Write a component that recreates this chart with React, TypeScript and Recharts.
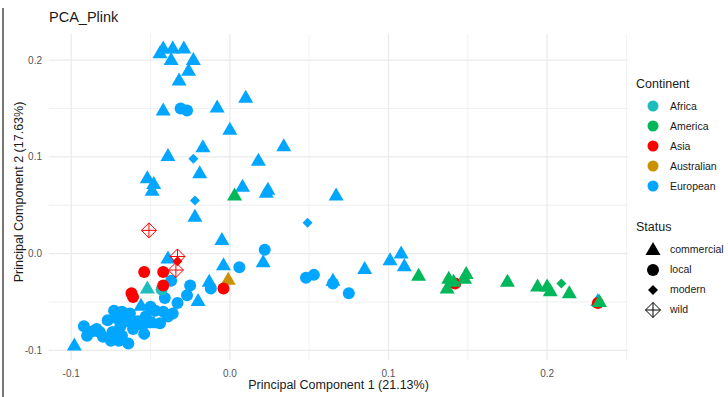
import { ScatterChart, Scatter, XAxis, YAxis, CartesianGrid, Label } from 'recharts';

const FONT = '"Liberation Sans", Arial, Helvetica, sans-serif';

const continentColors: Record<string, string> = {
  Africa: '#1DBDBD',
  America: '#00B85A',
  Asia: '#FF0000',
  Australian: '#C99200',
  European: '#00A6FF',
};

const continents = ['Africa', 'America', 'Asia', 'Australian', 'European'];
const statuses = ['commercial', 'local', 'modern', 'wild'];

const xTicks = [-0.1, 0, 0.1, 0.2];
const yTicks = [-0.1, 0, 0.1, 0.2];
const xMinor = [-0.05, 0.05, 0.15, 0.25];
const yMinor = [-0.05, 0.05, 0.15];

type P = [number, number];

const euroCommercial: P[] = [
  [-0.044, 0.207], [-0.042, 0.212], [-0.036, 0.212], [-0.029, 0.212], [-0.037, 0.2], [-0.023, 0.2],
  [-0.026, 0.189], [-0.032, 0.179], [-0.042, 0.148], [-0.008, 0.151], [0.0, 0.128], [0.01, 0.161],
  [-0.039, 0.101], [-0.017, 0.11], [0.034, 0.111], [0.018, 0.096], [-0.019, 0.083], [-0.052, 0.078],
  [-0.048, 0.072], [-0.049, 0.065], [0.008, 0.069], [0.024, 0.066], [0.023, 0.063], [0.067, 0.06],
  [-0.022, 0.038], [-0.005, 0.014], [-0.039, -0.005], [-0.004, -0.012], [0.021, -0.009],
  [-0.013, -0.029], [-0.02, -0.049], [-0.056, -0.054], [-0.048, -0.072], [-0.098, -0.095],
  [0.065, -0.028], [0.085, -0.016], [0.101, -0.007], [0.108, 0.0], [0.11, -0.013], [0.232, -0.049],
];

const euroLocal: P[] = [
  [-0.031, 0.15], [-0.027, 0.148], [0.022, 0.004], [0.006, -0.014], [-0.012, -0.036], [0.048, -0.025],
  [0.053, -0.022], [0.065, -0.031], [0.075, -0.041], [-0.037, -0.028], [-0.025, -0.033],
  [-0.041, -0.046], [-0.033, -0.051], [-0.027, -0.043],
  [-0.073, -0.059], [-0.068, -0.06], [-0.063, -0.062], [-0.05, -0.055], [-0.047, -0.059],
  [-0.042, -0.06], [-0.036, -0.062], [-0.077, -0.069], [-0.071, -0.067], [-0.065, -0.07],
  [-0.058, -0.07], [-0.051, -0.07], [-0.055, -0.074], [-0.092, -0.075], [-0.086, -0.08],
  [-0.082, -0.081], [-0.074, -0.081], [-0.068, -0.085], [-0.08, -0.086], [-0.075, -0.09],
  [-0.054, -0.083], [-0.09, -0.085], [-0.069, -0.075], [-0.061, -0.078], [-0.064, -0.093],
  [-0.07, -0.09], [-0.084, -0.078], [-0.044, -0.072], [-0.039, -0.065], [-0.053, -0.065],
];

const euroModern: P[] = [[-0.023, 0.098], [-0.022, 0.055], [0.049, 0.032]];

const australianCommercial: P[] = [[-0.001, -0.027]];
const africaCommercial: P[] = [[-0.052, -0.036]];
const africaLocal: P[] = [[-0.043, -0.037]];

const asiaLocal: P[] = [
  [-0.054, -0.019], [-0.042, -0.019], [-0.062, -0.041], [-0.061, -0.045], [-0.042, -0.033],
  [-0.004, -0.036], [0.142, -0.031], [0.232, -0.051],
];
const asiaModern: P[] = [[-0.033, -0.008]];
const asiaWild: P[] = [[-0.051, 0.024], [-0.033, -0.003], [-0.034, -0.017]];

const americaCommercial: P[] = [
  [0.003, 0.06], [0.119, -0.023], [0.138, -0.026], [0.137, -0.036], [0.141, -0.029], [0.148, -0.026],
  [0.149, -0.021], [0.175, -0.029], [0.194, -0.034], [0.2, -0.034], [0.202, -0.039], [0.214, -0.041],
  [0.233, -0.05],
];
const americaModern: P[] = [[0.209, -0.031]];

const groups: { continent: string; status: string; points: P[] }[] = [
  { continent: 'European', status: 'local', points: euroLocal },
  { continent: 'European', status: 'commercial', points: euroCommercial },
  { continent: 'European', status: 'modern', points: euroModern },
  { continent: 'Australian', status: 'commercial', points: australianCommercial },
  { continent: 'Africa', status: 'commercial', points: africaCommercial },
  { continent: 'Africa', status: 'local', points: africaLocal },
  { continent: 'Asia', status: 'local', points: asiaLocal },
  { continent: 'Asia', status: 'modern', points: asiaModern },
  { continent: 'America', status: 'commercial', points: americaCommercial },
  { continent: 'America', status: 'modern', points: americaModern },
  { continent: 'Asia', status: 'wild', points: asiaWild },
];

const drawSymbol = (status: string, cx: number, cy: number, color: string) => {
  if (status === 'commercial') {
    return <polygon points={`${cx},${cy - 8} ${cx + 7.5},${cy + 5} ${cx - 7.5},${cy + 5}`} fill={color} />;
  }
  if (status === 'local') {
    return <circle cx={cx} cy={cy} r={6} fill={color} />;
  }
  if (status === 'modern') {
    return <polygon points={`${cx},${cy - 5} ${cx + 5},${cy} ${cx},${cy + 5} ${cx - 5},${cy}`} fill={color} />;
  }
  return (
    <g stroke={color} strokeWidth={1} fill="none">
      <polygon points={`${cx},${cy - 7.5} ${cx + 7.5},${cy} ${cx},${cy + 7.5} ${cx - 7.5},${cy}`} />
      <line x1={cx - 7.5} y1={cy} x2={cx + 7.5} y2={cy} />
      <line x1={cx} y1={cy - 7.5} x2={cx} y2={cy + 7.5} />
    </g>
  );
};

const fmt = (v: number) => v.toFixed(1);

const CustomLegend = () => (
  <div style={{ position: 'absolute', left: 636, top: 77, fontFamily: FONT, color: '#1a1a1a' }}>
    <div style={{ fontSize: 12.5, height: 19 }}>Continent</div>
    {continents.map((c) => (
      <div key={c} style={{ display: 'flex', alignItems: 'center', height: 20, fontSize: 10.5 }}>
        <svg width={34} height={20}>
          <circle cx={17} cy={10} r={5.5} fill={continentColors[c]} />
        </svg>
        <span>{c}</span>
      </div>
    ))}
    <div style={{ fontSize: 12.5, height: 19, marginTop: 24 }}>Status</div>
    {statuses.map((s) => (
      <div key={s} style={{ display: 'flex', alignItems: 'center', height: 20, fontSize: 10.5 }}>
        <svg width={34} height={20}>
          {drawSymbol(s, 17, 11, '#000')}
        </svg>
        <span>{s}</span>
      </div>
    ))}
  </div>
);

const YTitle = (props: any) => {
  const vb = props.viewBox || {};
  const cy = vb.y + vb.height / 2 - 5;
  return (
    <text
      x={19}
      y={cy}
      transform={`rotate(-90, 19, ${cy})`}
      textAnchor="middle"
      dominantBaseline="central"
      fontSize={12.5}
      fill="#1a1a1a"
      fontFamily={FONT}
    >
      Principal Component 2 (17.63%)
    </text>
  );
};

export default function App() {
  return (
    <div style={{ position: 'absolute', left: 0, top: 0, width: 728, height: 397, background: '#fff', fontFamily: FONT }}>
      <div style={{ position: 'absolute', left: 2, top: 8, width: 1.5, height: 389, background: '#777' }} />
      <div style={{ position: 'absolute', left: 49, top: 9, fontSize: 14.5, color: '#1a1a1a' }}>PCA_Plink</div>
      <ScatterChart width={728} height={397} margin={{ top: 34, right: 100, bottom: 0, left: 0 }}>
        <CartesianGrid stroke="#ececec" strokeWidth={0.8} horizontalValues={yMinor} verticalValues={xMinor} />
        <CartesianGrid stroke="#ebebeb" strokeWidth={1.3} horizontalValues={yTicks} verticalValues={xTicks} />
        <XAxis
          type="number"
          dataKey="x"
          domain={[-0.114, 0.251]}
          ticks={xTicks}
          tickFormatter={fmt}
          axisLine={false}
          tickLine={false}
          tickMargin={4}
          height={37}
          allowDataOverflow
          tick={{ fontSize: 10, fill: '#555', fontFamily: FONT }}
        >
          <Label
            value="Principal Component 1 (21.13%)"
            position="insideBottom"
            offset={8}
            style={{ fontSize: 12.5, fill: '#1a1a1a', fontFamily: FONT }}
          />
        </XAxis>
        <YAxis
          type="number"
          dataKey="y"
          domain={[-0.11, 0.227]}
          ticks={yTicks}
          tickFormatter={fmt}
          axisLine={false}
          tickLine={false}
          tickMargin={1}
          width={49}
          allowDataOverflow
          tick={{ fontSize: 10, fill: '#555', fontFamily: FONT }}
        >
          <Label content={<YTitle />} />
        </YAxis>
        {groups.map((g, i) => (
          <Scatter
            key={i}
            name={`${g.continent} ${g.status}`}
            data={g.points.map(([x, y]) => ({ x, y }))}
            isAnimationActive={false}
            shape={(p: any) => drawSymbol(g.status, p.cx, p.cy, continentColors[g.continent])}
          />
        ))}
      </ScatterChart>
      <CustomLegend />
    </div>
  );
}
